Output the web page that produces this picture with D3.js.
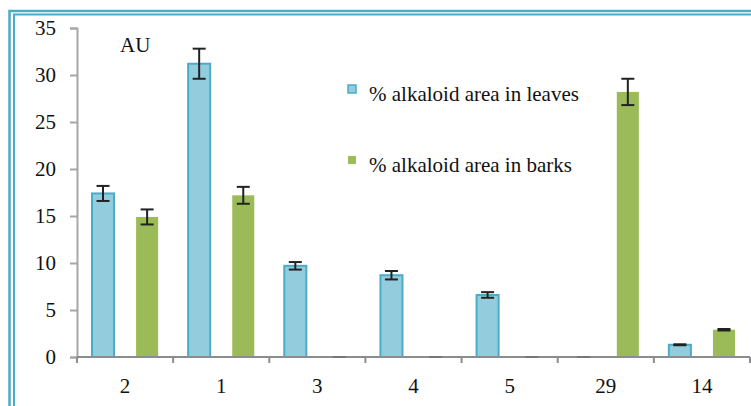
<!DOCTYPE html>
<html>
<head>
<meta charset="utf-8">
<script src="https://cdn.jsdelivr.net/npm/d3@7"></script>
<style>
  body { margin: 0; background: #fff; }
</style>
</head>
<body>
<div id="chartDiv"></div>
<script>
// categories along the x axis
var categories = ["2", "1", "3", "4", "5", "29", "14"];
var seriesNames = ["% alkaloid area in leaves", "% alkaloid area in barks"];
// mean values
var leaves = [17.4, 31.2, 9.7, 8.7, 6.6, 0, 1.3];
var barks = [14.9, 17.2, 0, 0, 0, 28.2, 2.9];
// error bar half-widths
var leavesErr = [0.8, 1.6, 0.4, 0.45, 0.3, 0, 0.05];
var barksErr = [0.8, 0.9, 0, 0, 0, 1.4, 0.08];
var yTicks = [0, 5, 10, 15, 20, 25, 30, 35];

var width = 751, height = 406;
var colors = ["#93cddd", "#9bbb59"];
var serif = "Liberation Serif";
var fs = 21;

var svg = d3.select("#chartDiv")
            .append("svg")
            .attr("width", width)
            .attr("height", height);

// double frame on top and left
svg.append("path").attr("d", "M9.5,406 V11 H751").attr("fill", "none")
   .attr("stroke", "#4bacc6").attr("stroke-width", 2.5);
svg.append("path").attr("d", "M14,406 V14.5 H751").attr("fill", "none")
   .attr("stroke", "#4bacc6").attr("stroke-width", 2);

var x = d3.scaleBand().domain(categories).range([77, 750]);
var xSub = d3.scaleBand().domain(seriesNames)
             .range([15, x.bandwidth() - 15]).paddingInner(0.5);
var y = d3.scaleLinear().domain([0, 35]).range([357, 28]);

// y axis
var yAxis = svg.append("g")
   .attr("transform", "translate(77,0)")
   .call(d3.axisLeft(y).tickValues(yTicks).tickSize(7).tickPadding(14));
yAxis.attr("font-family", serif).attr("font-size", fs);
yAxis.select(".domain").attr("stroke", "#a6a6a6").attr("stroke-width", 2);
yAxis.selectAll(".tick line").attr("stroke", "#a6a6a6").attr("stroke-width", 2);
yAxis.selectAll("text").attr("fill", "#111");

var data = [];
categories.forEach(function(c, i) {
    data.push({ cat: c, s: seriesNames[0], v: leaves[i], e: leavesErr[i], k: 0 });
    data.push({ cat: c, s: seriesNames[1], v: barks[i], e: barksErr[i], k: 1 });
});

svg.selectAll("rect.bar")
   .data(data.filter(function(d) { return d.v > 0; }))
   .enter()
   .append("rect")
   .attr("class", "bar")
   .attr("x", function(d) { return x(d.cat) + xSub(d.s); })
   .attr("y", function(d) { return y(d.v); })
   .attr("width", xSub.bandwidth())
   .attr("height", function(d) { return y(0) - y(d.v); })
   .attr("fill", function(d) { return colors[d.k]; })
   .attr("stroke", function(d) { return d.k === 0 ? "#4bacc6" : "none"; })
   .attr("stroke-width", 2);

// x axis
var xAxis = svg.append("g")
   .attr("transform", "translate(0,357)")
   .call(d3.axisBottom(x).tickSize(0).tickPadding(21));
xAxis.attr("font-family", serif).attr("font-size", fs);
xAxis.select(".domain").remove();
xAxis.selectAll("text").attr("fill", "#111");
svg.append("line").attr("x1", 77).attr("x2", 750).attr("y1", 357).attr("y2", 357)
   .attr("stroke", "#8c8c8c").attr("stroke-width", 2);
svg.selectAll("line.xtick")
   .data(categories.map(function(c) { return x(c); }).concat([x.range()[1]]))
   .enter()
   .append("line")
   .attr("class", "xtick")
   .attr("x1", function(d) { return d; }).attr("x2", function(d) { return d; })
   .attr("y1", 357).attr("y2", 363)
   .attr("stroke", "#8c8c8c").attr("stroke-width", 2);

// error bars
var capW = 13;
var eb = svg.selectAll("g.err").data(data).enter().append("g").attr("class", "err")
   .attr("stroke", "#222").attr("stroke-width", 2);
eb.append("line")
  .attr("x1", function(d) { return x(d.cat) + xSub(d.s) + xSub.bandwidth() / 2; })
  .attr("x2", function(d) { return x(d.cat) + xSub(d.s) + xSub.bandwidth() / 2; })
  .attr("y1", function(d) { return y(d.v + d.e); })
  .attr("y2", function(d) { return y(d.v - d.e); });
eb.selectAll("line.cap")
  .data(function(d) { return [d.v + d.e, d.v - d.e].map(function(v) { return { d: d, v: v }; }); })
  .enter().append("line").attr("class", "cap")
  .attr("x1", function(p) { return x(p.d.cat) + xSub(p.d.s) + xSub.bandwidth() / 2 - capW / 2; })
  .attr("x2", function(p) { return x(p.d.cat) + xSub(p.d.s) + xSub.bandwidth() / 2 + capW / 2; })
  .attr("y1", function(p) { return y(p.v); })
  .attr("y2", function(p) { return y(p.v); })
  .attr("stroke", function(p) { return p.d.v === 0 ? "#777" : "#222"; });

// label
svg.append("text").attr("x", 120).attr("y", 52)
   .attr("font-family", serif).attr("font-size", fs).attr("fill", "#111").text("AU");

// legend
var legend = svg.selectAll("g.legend").data(seriesNames).enter().append("g")
   .attr("class", "legend")
   .attr("transform", function(d, i) { return "translate(348," + (i === 0 ? 85 : 156) + ")"; });
legend.append("rect").attr("width", 8).attr("height", 8)
   .attr("fill", function(d, i) { return colors[i]; })
   .attr("stroke", function(d, i) { return i === 0 ? "#4bacc6" : "none"; })
   .attr("stroke-width", 1.5);
legend.append("text").attr("x", 21).attr("y", 16)
   .attr("font-family", serif).attr("font-size", fs).attr("fill", "#111")
   .text(function(d) { return d; });
</script>
</body>
</html>
